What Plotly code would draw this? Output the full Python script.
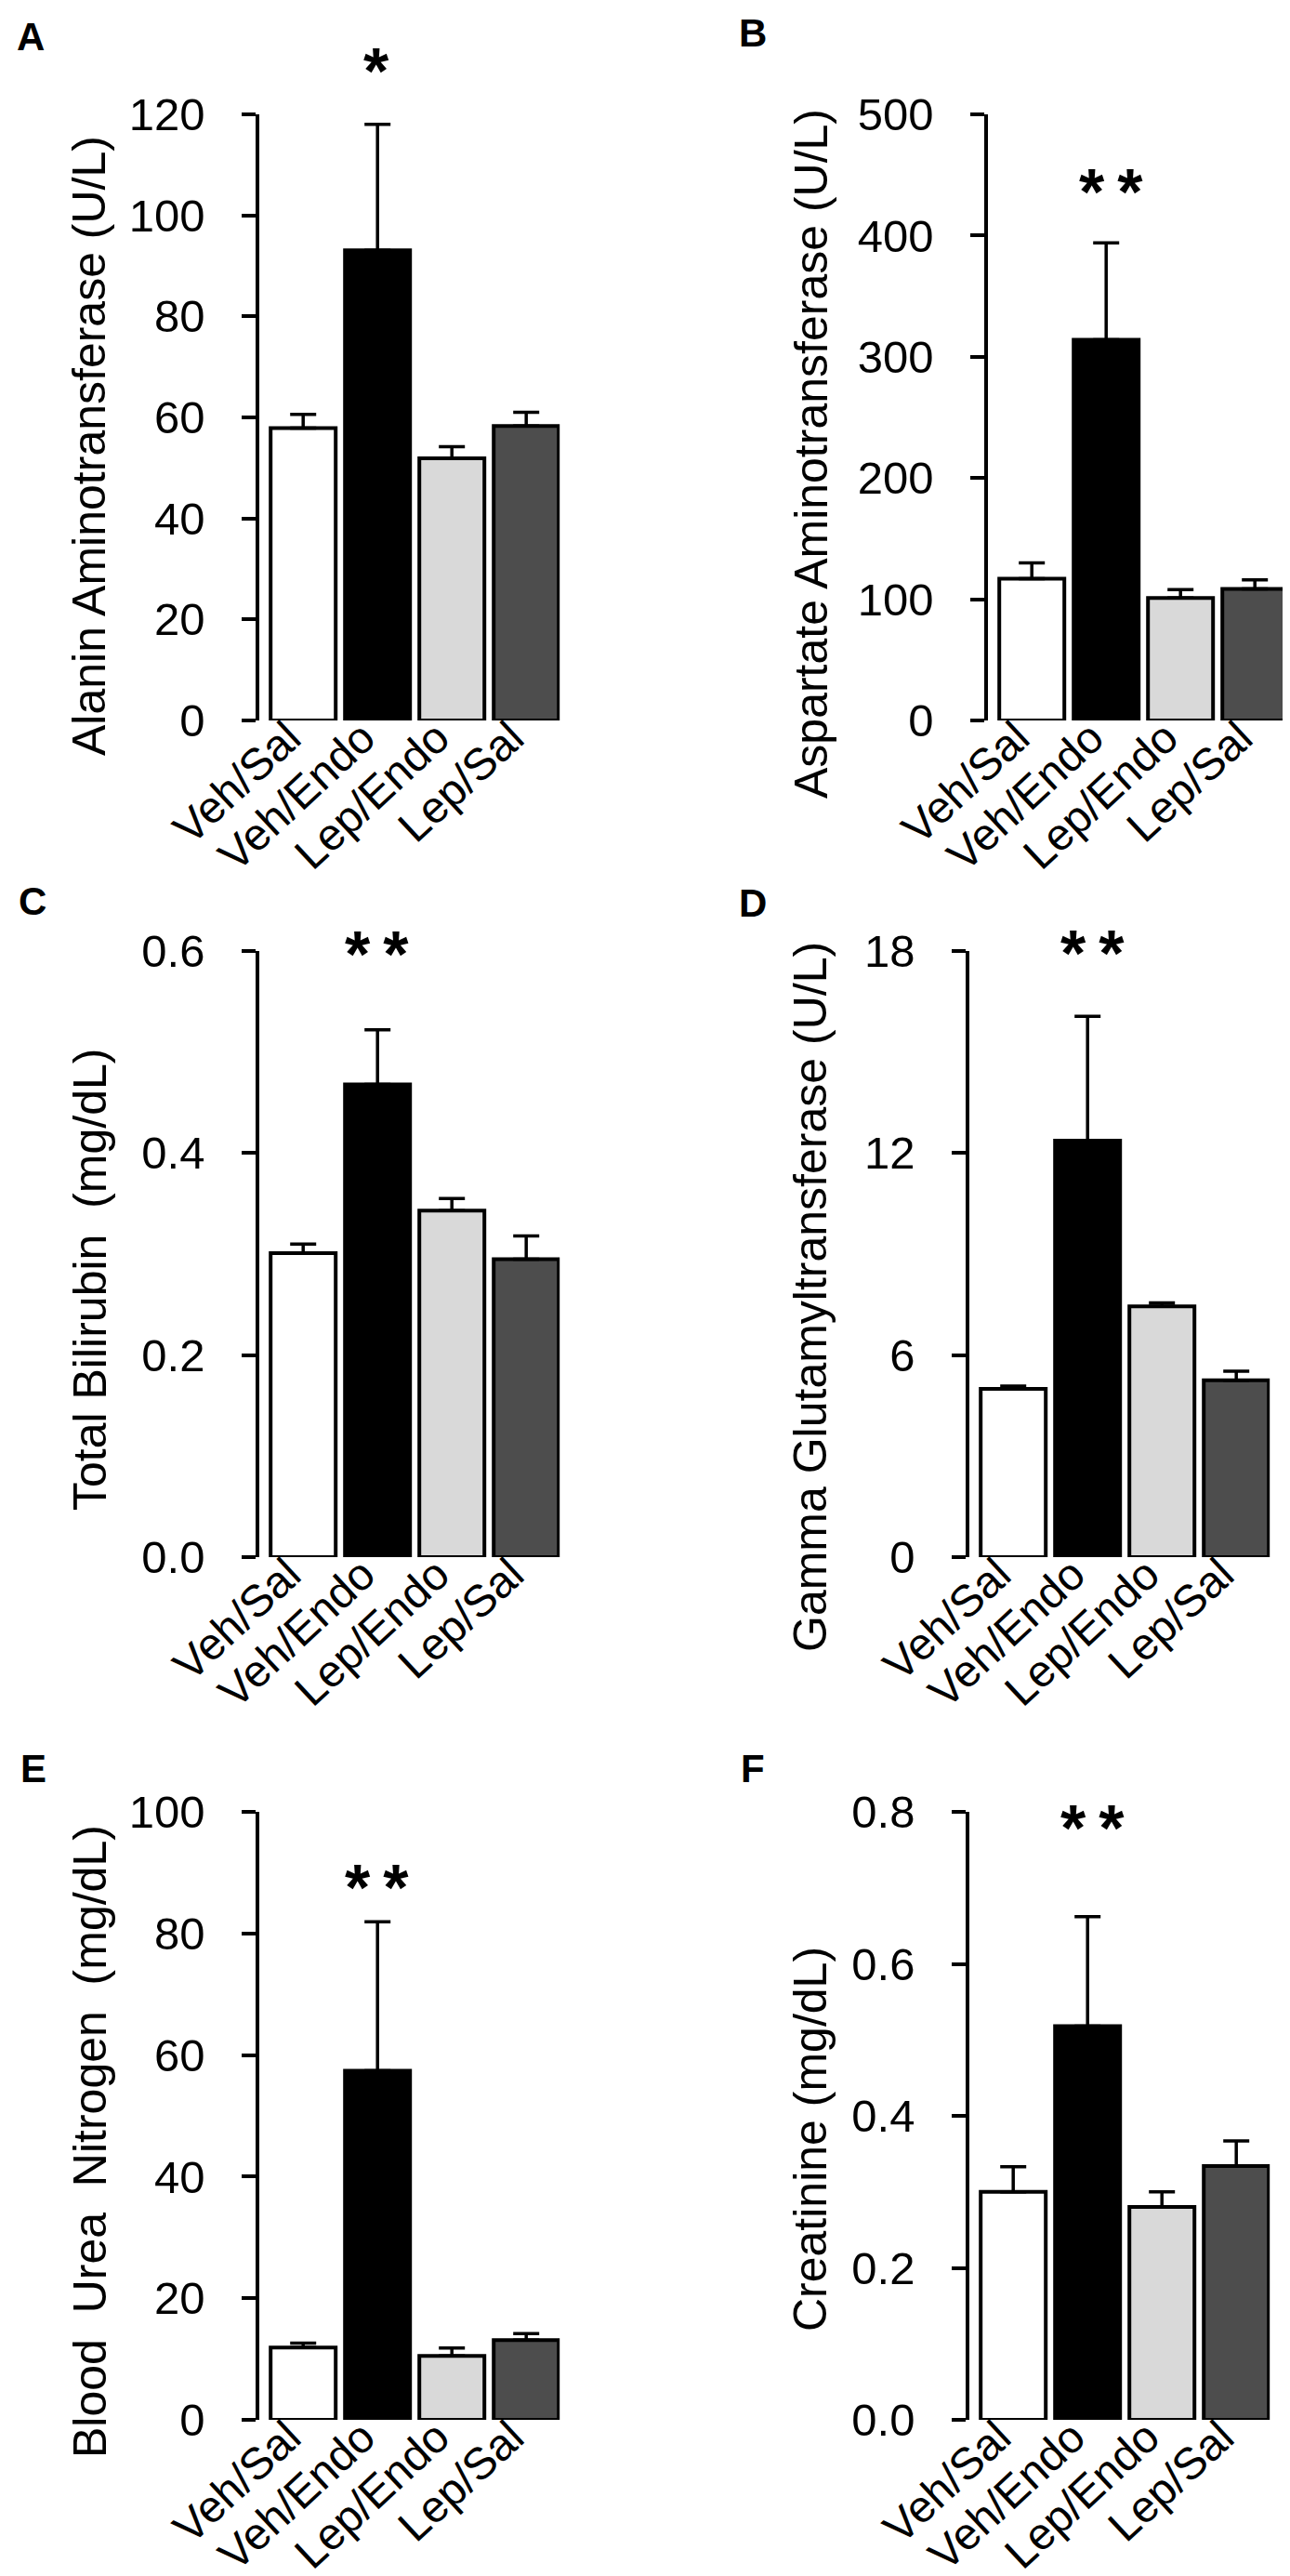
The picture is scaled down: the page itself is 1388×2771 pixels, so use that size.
import plotly.graph_objects as go

W, H = 1388, 2771
FONT = "Liberation Sans, Arial, sans-serif"

groups = ["Veh/Sal", "Veh/Endo", "Lep/Endo", "Lep/Sal"]
bar_colors = ["#ffffff", "#000000", "#d9d9d9", "#4d4d4d"]

# mean and upper error limit (mean + SEM) per panel
alt_mean = [57.9, 93.1, 51.9, 58.3]
alt_top = [60.6, 118.0, 54.2, 61.0]
ast_mean = [117, 314, 101, 108.6]
ast_top = [130, 394, 108, 116]
bil_mean = [0.301, 0.468, 0.343, 0.295]
bil_top = [0.310, 0.522, 0.355, 0.318]
ggt_mean = [5.0, 12.37, 7.45, 5.25]
ggt_top = [5.08, 16.06, 7.55, 5.52]
bun_mean = [11.9, 57.4, 10.5, 13.1]
bun_top = [12.6, 81.9, 11.8, 14.2]
cre_mean = [0.300, 0.518, 0.280, 0.334]
cre_top = [0.333, 0.662, 0.300, 0.367]

alt_ticks = [0, 20, 40, 60, 80, 100, 120]
ast_ticks = [0, 100, 200, 300, 400, 500]
bil_ticks = [0.0, 0.2, 0.4, 0.6]
ggt_ticks = [0, 6, 12, 18]
bun_ticks = [0, 20, 40, 60, 80, 100]
cre_ticks = [0.0, 0.2, 0.4, 0.6, 0.8]

# panel: letter, title, means, tops, ticks, tickformat, stars,
#        axis x px, top px, bottom px, letter centre, title centre, star centre
panels = [
    ("A", "Alanin Aminotransferase (U/L)", alt_mean, alt_top, alt_ticks, "d", "*",
     271, 115, 767, (25, 31), (88, 472), (397, 80)),
    ("B", "Aspartate Aminotransferase (U/L)", ast_mean, ast_top, ast_ticks, "d", "**",
     1055, 115, 767, (802, 28), (865, 480), (1187, 210)),
    ("C", "Total Bilirubin\u00a0\u00a0(mg/dL)", bil_mean, bil_top, bil_ticks, ".1f", "**",
     271, 1015, 1667, (27, 961), (89, 1369), (398, 1030)),
    ("D", "Gamma Glutamyltransferase (U/L)", ggt_mean, ggt_top, ggt_ticks, "d", "**",
     1035, 1015, 1667, (802, 963), (864, 1387), (1167, 1029)),
    ("E", "Blood\u00a0\u00a0Urea\u00a0\u00a0Nitrogen\u00a0\u00a0(mg/dL)", bun_mean, bun_top, bun_ticks, "d", "**",
     271, 1941, 2595, (28, 1894), (89, 2296), (398, 2034)),
    ("F", "Creatinine (mg/dL)", cre_mean, cre_top, cre_ticks, ".1f", "**",
     1035, 1941, 2595, (802, 1894), (864, 2293), (1167, 1970)),
]

fig = go.Figure()
annotations = []
layout = {}

for i, (letter, title, means, tops, ticks, fmt, stars,
        ax_x, top_px, bot_px, let_pos, tit_pos, star_pos) in enumerate(panels, start=1):
    xname = "x" if i == 1 else f"x{i}"
    yname = "y" if i == 1 else f"y{i}"
    fig.add_trace(go.Bar(
        x=[0, 1, 2, 3],
        y=means,
        width=0.875,
        marker=dict(color=bar_colors, line=dict(color="black", width=4)),
        error_y=dict(type="data", symmetric=False,
                     array=[t - m for t, m in zip(tops, means)],
                     arrayminus=[0, 0, 0, 0],
                     color="black", thickness=3.5, width=14),
        xaxis=xname, yaxis=yname,
    ))
    x0 = ax_x / W
    x1 = (ax_x + 4.04 * 80) / W
    layout[f"xaxis{'' if i == 1 else i}"] = dict(
        domain=[x0, x1], range=[-0.59, 3.45], anchor=yname, automargin=False,
        tickvals=[0, 1, 2, 3], ticktext=groups, tickangle=-43,
        tickfont=dict(size=48, color="black", family=FONT),
        ticklabelstandoff=-20, ticklabelshift=-16,
        showline=False, ticks="", showgrid=False, zeroline=False,
    )
    layout[f"yaxis{'' if i == 1 else i}"] = dict(
        domain=[1 - bot_px / H, 1 - top_px / H], range=[0, ticks[-1]], anchor=xname,
        automargin=False, tickvals=ticks, tickformat=fmt,
        tickfont=dict(size=49, color="black", family=FONT),
        showline=True, linecolor="black", linewidth=3.5,
        ticks="outside", ticklen=15, tickwidth=3.5, tickcolor="black",
        ticklabelstandoff=30, showgrid=False, zeroline=False,
    )
    annotations.append(dict(
        text=f"<b>{letter}</b>", x=let_pos[0] / W, y=1 - let_pos[1] / H,
        xref="paper", yref="paper", xanchor="center", yanchor="middle",
        showarrow=False, font=dict(size=42, color="black", family=FONT),
    ))
    annotations.append(dict(
        text=title, textangle=-90, x=tit_pos[0] / W, y=1 - tit_pos[1] / H,
        xref="paper", yref="paper", xanchor="center", yanchor="middle",
        showarrow=False, font=dict(size=50, color="black", family=FONT),
    ))
    annotations.append(dict(
        text=f"<b>{chr(0x2009).join(stars)}</b>", x=star_pos[0] / W, y=1 - star_pos[1] / H + 0.004,
        xref="paper", yref="paper", xanchor="center", yanchor="middle",
        showarrow=False, font=dict(size=70, color="black", family=FONT),
    ))

fig.update_layout(
    template="none",
    width=W, height=H,
    margin=dict(l=0, r=0, t=0, b=0),
    paper_bgcolor="white", plot_bgcolor="white",
    showlegend=False,
    annotations=annotations,
    **layout,
)

fig.write_html("out.html")
